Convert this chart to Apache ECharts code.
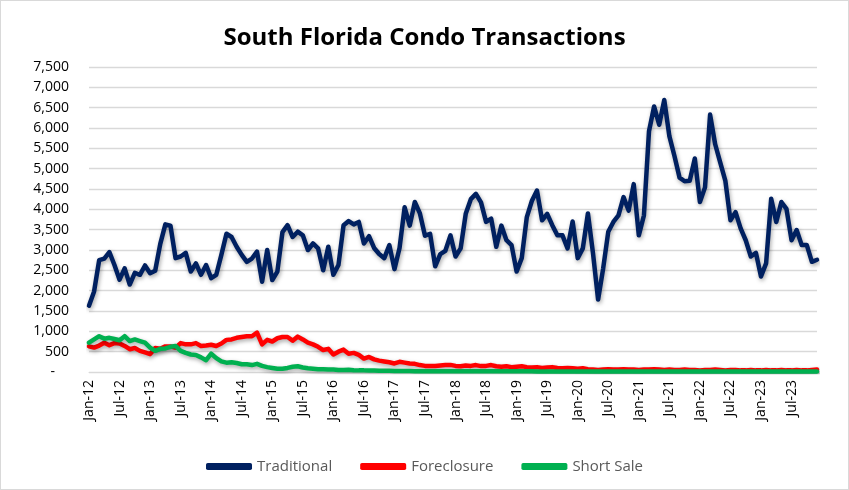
<!DOCTYPE html>
<html lang="en">
<head>
  <meta charset="UTF-8" />
  <title>South Florida Condo Transactions</title>
  <script src="https://cdn.jsdelivr.net/npm/echarts@6/dist/echarts.min.js"></script>
  <style>
    html, body {
      margin: 0;
      padding: 0;
      background: #fff;
    }
    #chart {
      width: 849px;
      height: 490px;
      box-sizing: border-box;
      border: 1px solid #d9d9d9;
    }
  </style>
</head>
<body>
  <div id="chart"></div>

  <script>
    // monthly values, Jan-12 .. Dec-23
    const traditional = [
      1630, 1980, 2750, 2790, 2950, 2630, 2270, 2550, 2150, 2440, 2390, 2620,
      2430, 2490, 3150, 3630, 3600, 2800, 2840, 2930, 2470, 2670, 2390, 2630,
      2310, 2390, 2880, 3400, 3320, 3080, 2880, 2710, 2790, 2960, 2220, 3000,
      2260, 2470, 3440, 3610, 3320, 3450, 3360, 3000, 3160, 3040, 2500, 3080,
      2390, 2630, 3610, 3710, 3630, 3690, 3160, 3340, 3050, 2900, 2800, 3120,
      2530, 3050, 4050, 3600, 4180, 3900, 3350, 3400, 2600, 2900, 2980, 3360,
      2840, 3040, 3890, 4250, 4380, 4170, 3690, 3770, 3080, 3600, 3240, 3120,
      2470, 2800, 3810, 4210, 4460, 3730, 3890, 3610, 3360, 3360, 3040, 3700,
      2800, 3040, 3900, 2920, 1780, 2550, 3450, 3690, 3850, 4300, 3970, 4620,
      3360, 3850, 5920, 6530, 6080, 6690, 5800, 5310, 4780, 4690, 4700, 5250,
      4180, 4540, 6330, 5600, 5150, 4700, 3730, 3930, 3530, 3240, 2840, 2930,
      2350, 2670, 4260, 3690, 4180, 4010, 3240, 3490, 3120, 3120, 2710, 2760
    ];

    const foreclosure = [
      630, 600, 650, 720, 660, 710, 700, 640, 560, 590, 520, 480,
      440, 590, 570, 630, 630, 600, 710, 680, 680, 710, 640, 650,
      670, 640, 700, 790, 800, 840, 860, 880, 880, 970, 680, 790,
      750, 830, 860, 860, 770, 870, 800, 720, 680, 620, 540, 570,
      430, 500, 550, 450, 470, 420, 330, 370, 310, 280, 260, 240,
      210, 250, 230, 210, 200, 170, 150, 145, 145, 160, 170, 175,
      150, 140, 160, 150, 170, 145, 150, 170, 140, 130, 140, 120,
      130, 140, 120, 110, 120, 100, 110, 120, 100, 90, 100, 90,
      80, 90, 70, 60, 50, 60, 70, 60, 60, 70, 60, 60,
      50, 60, 60, 70, 60, 50, 60, 50, 50, 60, 50, 50,
      40, 50, 50, 60, 50, 40, 50, 50, 40, 40, 50, 40,
      40, 50, 40, 40, 50, 40, 40, 50, 40, 40, 50, 60
    ];

    const shortSale = [
      720, 800, 880, 820, 840, 810, 780, 880, 760, 800, 760, 720,
      600, 520, 570, 580, 620, 640, 520, 470, 430, 420, 360, 290,
      450, 340, 260, 230, 240, 220, 190, 190, 170, 200, 150, 120,
      100, 80, 80, 100, 130, 140, 110, 90, 80, 70, 70, 60,
      60, 50, 50, 55, 45, 40, 40, 35, 35, 30, 30, 30,
      25, 25, 25, 25, 20, 20, 20, 20, 20, 20, 20, 20,
      20, 20, 20, 20, 20, 20, 20, 20, 20, 20, 20, 20,
      20, 20, 20, 20, 15, 15, 15, 15, 15, 15, 15, 15,
      15, 15, 15, 15, 15, 15, 15, 15, 15, 15, 15, 15,
      15, 15, 15, 15, 15, 15, 15, 15, 15, 15, 15, 15,
      15, 15, 15, 15, 15, 15, 15, 15, 15, 15, 15, 15,
      15, 15, 15, 15, 15, 15, 15, 15, 15, 15, 15, 15
    ];

    const monthNames = ["Jan", "Feb", "Mar", "Apr", "May", "Jun", "Jul", "Aug", "Sep", "Oct", "Nov", "Dec"];
    const years = [12, 13, 14, 15, 16, 17, 18, 19, 20, 21, 22, 23];

    const months = [];
    years.forEach(y => monthNames.forEach(m => months.push(m + "-" + y)));

    const font = "'Open Sans', 'Noto Sans', sans-serif";

    const shadow = {
      shadowColor: "rgba(0, 0, 0, 0.35)",
      shadowBlur: 4,
      shadowOffsetX: 1,
      shadowOffsetY: 2
    };

    function lineSeries(name, data, color) {
      return {
        name: name,
        type: "line",
        data: data,
        symbol: "none",
        smooth: false,
        lineStyle: Object.assign({ color: color, width: 4.5, cap: "round", join: "round" }, shadow),
        itemStyle: { color: color }
      };
    }

    const chart = echarts.init(document.getElementById("chart"));

    chart.setOption({
      animation: false,
      title: {
        text: "South Florida Condo Transactions",
        left: "center",
        top: 20,
        textStyle: {
          fontFamily: font,
          fontSize: 24,
          fontWeight: "bold",
          color: "#000"
        }
      },
      legend: {
        bottom: 10,
        left: "center",
        itemWidth: 46,
        itemHeight: 7,
        itemGap: 28,
        icon: "roundRect",
        textStyle: {
          fontFamily: font,
          fontSize: 15,
          color: "#595959"
        },
        data: ["Traditional", "Foreclosure", "Short Sale"]
      },
      grid: {
        left: 88,
        right: 31,
        top: 66,
        bottom: 117,
        containLabel: false
      },
      xAxis: {
        type: "category",
        data: months,
        boundaryGap: false,
        axisLine: { lineStyle: { color: "#d9d9d9", width: 1 } },
        axisTick: { show: false },
        axisLabel: {
          interval: 5,
          rotate: 90,
          margin: 8,
          color: "#000",
          fontFamily: font,
          fontSize: 14
        }
      },
      yAxis: {
        type: "value",
        min: 0,
        max: 7500,
        interval: 500,
        axisLine: { show: false },
        axisTick: { show: false },
        splitLine: { lineStyle: { color: "#d9d9d9", width: 1.3 } },
        axisLabel: {
          margin: 20,
          color: "#000",
          fontFamily: font,
          fontSize: 14,
          formatter: v => v === 0 ? "-\u2002\u2002" : v.toLocaleString("en-US")
        }
      },
      series: [
        lineSeries("Traditional", traditional, "#002060"),
        lineSeries("Foreclosure", foreclosure, "#ff0000"),
        lineSeries("Short Sale", shortSale, "#00b050")
      ]
    });
  </script>
</body>
</html>
